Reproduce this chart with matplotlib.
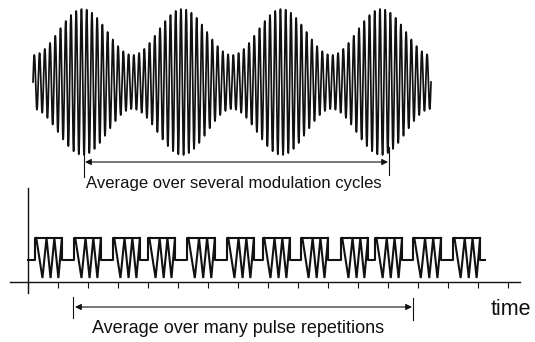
import numpy as np
import matplotlib.pyplot as plt

plt.rcParams['font.family'] = ['Liberation Sans', 'DejaVu Sans']

W, H = 535, 342
INK = '#111111'

# top trace: amplitude modulated carrier (x in modulation cycles)
mod_cycles = 4
carrier_per_cycle = 19
env_peak = 1.0
env_node = 0.37

# bottom trace: pulse train (x in time-tick units)
pulse_start = [0.23, 1.53, 2.83, 4.0, 5.3, 6.63, 7.83, 9.1, 10.43, 11.57, 12.83, 14.17]
pulse_end = [1.13, 2.43, 3.73, 4.9, 6.23, 7.53, 8.73, 10.0, 11.33, 12.47, 13.77, 15.07]
tail_end = 15.23
base_level = 1.0
high_level = 2.0
dip_level = 0.18
n_ticks = 17
# zig-zag corners inside one pulse, as fraction of the pulse width
zig_frac = [0.05, 0.28, 0.43, 0.58, 0.72, 0.87, 1.0]

fig = plt.figure(figsize=(W / 100, H / 100), dpi=100)


def px_axes(x0, y0, x1, y1):
    """axes placed by pixel box of the figure"""
    return fig.add_axes([x0 / W, 1 - y1 / H, (x1 - x0) / W, (y1 - y0) / H])


arrow = dict(arrowstyle='<|-|>', mutation_scale=9, lw=0.8, color=INK,
             shrinkA=0, shrinkB=0)

# ---- top: modulated signal
ax1 = px_axes(33, 9, 431, 155)
t = np.linspace(0, mod_cycles, 20000)
env = (env_peak + env_node) / 2 - (env_peak - env_node) / 2 * np.cos(2 * np.pi * t)
ax1.plot(t, env * np.sin(2 * np.pi * carrier_per_cycle * t), color=INK, lw=1.25,
         clip_on=False)
ax1.set_xlim(0, mod_cycles)
ax1.set_ylim(-1, 1)
ax1.axis('off')

ax1.annotate('', xy=(0.523, -1.096), xytext=(3.568, -1.096),
             arrowprops=arrow, annotation_clip=False)
ax1.plot([0.513, 0.513], [-0.904, -1.301], color=INK, lw=0.8, clip_on=False)
ax1.plot([3.578, 3.578], [-0.89, -1.274], color=INK, lw=0.8, clip_on=False)
ax1.text(0.53, -1.452, 'Average over several modulation cycles', fontsize=12,
         color=INK, ha='left', va='baseline')

# ---- bottom: pulse train
ax2 = px_axes(10, 188, 520, 293)
xs, ys = [0], [base_level]
for s, e in zip(pulse_start, pulse_end):
    xs += [s, s, e, e]
    ys += [base_level, high_level, high_level, base_level]
    w = e - s
    zx = [s + f * w for f in zig_frac]
    zy = [high_level if i % 2 == 0 else dip_level for i in range(len(zig_frac))]
    ax2.plot(zx, zy, color=INK, lw=1.5, solid_joinstyle='miter', clip_on=False)
xs.append(tail_end)
ys.append(base_level)
ax2.plot(xs, ys, color=INK, lw=1.5, clip_on=False)

ax2.set_xlim(-0.6, 16.4)
ax2.set_ylim(-0.5, 4.27)
for side in ['top', 'right']:
    ax2.spines[side].set_visible(False)
ax2.spines['left'].set_position(('data', 0))
ax2.spines['bottom'].set_position(('data', 0))
for side in ['left', 'bottom']:
    ax2.spines[side].set_linewidth(1.0)
    ax2.spines[side].set_color(INK)
ax2.set_xticks(range(n_ticks))
ax2.set_xticklabels([])
ax2.set_yticks([])
ax2.tick_params(axis='x', direction='out', length=4, width=0.8, color=INK)
ax2.patch.set_visible(False)

ax2.annotate('', xy=(1.567, -1.136), xytext=(12.8, -1.136),
             arrowprops=arrow, annotation_clip=False)
ax2.plot([1.5, 1.5], [-0.68, -1.636], color=INK, lw=0.8, clip_on=False)
ax2.plot([12.833, 12.833], [-0.727, -1.727], color=INK, lw=0.8, clip_on=False)
ax2.text(2.133, -2.318, 'Average over many pulse repetitions', fontsize=13,
         color=INK, ha='left', va='baseline')
ax2.text(15.43, -1.5, 'time', fontsize=15.5, color=INK, ha='left', va='baseline')

fig.savefig('out.png', dpi=100)
